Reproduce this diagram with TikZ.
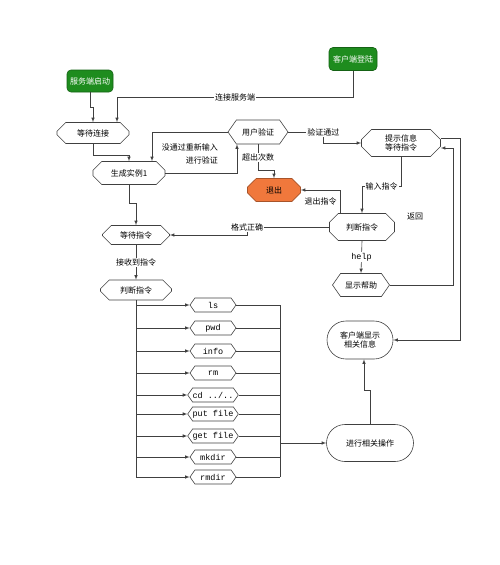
\documentclass[tikz,border=0pt]{standalone}
\usepackage{fontspec}
\setmainfont{Liberation Serif}
\setmonofont{Liberation Mono}
\newfontfamily\cjk{Noto Sans CJK SC}
\usetikzlibrary{shapes.misc,shapes.symbols}
\definecolor{startgreen}{RGB}{30,140,30}
\definecolor{quitorange}{RGB}{240,120,60}
\tikzset{
  base/.style={draw=black!75, line width=0.6pt, inner sep=0pt, align=center, font=\cjk\fontsize{8}{9.5}\selectfont},
  startbox/.style={base, rectangle, rounded corners=4pt, fill=startgreen, draw=startgreen!70!black, text=white},
  octbox/.style={base, chamfered rectangle, chamfered rectangle xsep=5pt, chamfered rectangle ysep=5pt},
  hexbox/.style={base, signal, signal to=west and east, signal pointer angle=110},
  cmdbox/.style={hexbox, font=\ttfamily\fontsize{8.5}{9}\selectfont, minimum width=46pt, minimum height=14pt},
  roundbox/.style={base, rounded rectangle},
  arr/.style={draw=black!75, line width=0.6pt, -latex},
  lbl/.style={font=\cjk\fontsize{8}{9.5}\selectfont, fill=white, inner sep=1pt, align=center}
}
\begin{document}
\begin{tikzpicture}[x=1pt, y=-1pt]
		\useasboundingbox (0,0) rectangle (500,565);
		
		%%%%% START %%%%%
		\node[startbox, minimum width=46pt, minimum height=22pt] (srvStart) at (90,81) {服务端启动};
		\node[startbox, minimum width=48pt, minimum height=23pt] (cliLogin) at (353,59) {客户端登陆};
		
		\node[octbox, minimum width=72pt, minimum height=21pt] (waitConn) at (93,133) {等待连接};
		\node[hexbox, minimum width=60pt, minimum height=24pt] (auth) at (258,132) {用户验证};
		\node[octbox, minimum width=72pt, minimum height=23pt] (inst) at (129,173) {生成实例1};
		\node[octbox, minimum width=53pt, minimum height=23pt, fill=quitorange, draw=quitorange!70!black] (quit) at (274,190) {退出};
		\node[octbox, minimum width=79pt, minimum height=21pt] (prompt) at (401,143) {提示信息\\等待指令};
		\node[octbox, minimum width=65pt, minimum height=27pt] (judgeR) at (362,227) {判断指令};
		\node[octbox, minimum width=67pt, minimum height=19pt] (waitCmd) at (136,235) {等待指令};
		\node[octbox, minimum width=71pt, minimum height=20pt] (judgeL) at (136,290) {判断指令};
		\node[hexbox, minimum width=57pt, minimum height=23pt] (help) at (361,285) {显示帮助};
		\node[roundbox, minimum width=66pt, minimum height=38pt] (show) at (360,340) {客户端显示\\相关信息};
		\node[roundbox, minimum width=87pt, minimum height=37pt] (oper) at (370,443) {进行相关操作};
		
		% commands
		\node[cmdbox] (cmdLs) at (213,305) {ls};
		\node[cmdbox] (cmdPwd) at (213,328) {pwd};
		\node[cmdbox] (cmdInfo) at (213,351) {info};
		\node[cmdbox] (cmdRm) at (213,373) {rm};
		\node[cmdbox] (cmdCd) at (213,395) {cd ../..};
		\node[cmdbox] (cmdPut) at (213,414) {put file};
		\node[cmdbox] (cmdGet) at (213,436) {get file};
		\node[cmdbox] (cmdMkdir) at (213,457) {mkdir};
		\node[cmdbox] (cmdRmdir) at (213,477) {rmdir};
		\coordinate (busR) at (280,305);
		
		% connectors
		\draw[arr] (srvStart.south) -- ++(0,15) -| (waitConn.north);
		\coordinate (connJoin) at (117,97);
		\draw[arr] (cliLogin.south) |- node[lbl, pos=0.75] {连接服务端} (connJoin) -- (connJoin |- waitConn.north);
		\draw[arr] (waitConn.south) -- ++(0,11) -| (inst.north);
		\draw[arr] (auth.west) -| ([xshift=23pt]inst.north);
		\node[lbl, anchor=east, align=right, fill=none] (lblRetry) at (219,154) {没通过重新输入\\[3pt]进行验证};
		\draw[arr] (inst.east) -| ([xshift=-21pt]auth.south);
		\draw[arr] (auth.south) -- node[lbl] {超出次数} ++(0,26) -| (quit.north);
		\draw[arr] (auth.east) -- ++(35,0) node[lbl] {验证通过} |- (prompt.west);
		\draw[arr] (prompt.south) -- ++(0,30) -| node[lbl, pos=0.25] {输入指令} (judgeR.north);
		\draw[arr] ([xshift=-22pt]judgeR.north) |- node[lbl, pos=0.25, anchor=east, xshift=-2pt, fill=none] {退出指令} (quit.east);
		\draw[arr] (judgeR.west) -- ++(-82,0) node[lbl] {格式正确} |- (waitCmd.east);
		\draw[arr] (judgeR.south) -- node[lbl, font=\ttfamily\fontsize{8.5}{9}\selectfont] {help} (help.north);
		\draw[arr] (help.east) -- ++(63,0) |- ([yshift=-5pt]prompt.east);
		\node[lbl, fill=none] (lblBack) at (415,217) {返回};
		\draw[arr] ([yshift=5pt]prompt.east) -- ++(19,0) |- (show.east);
		\draw[arr] (oper.north) -- ++(0,-34) -| ([xshift=4pt]show.south);
		\draw[arr] (inst.south) -- ++(0,18) -| (waitCmd.north);
		\draw[arr] (waitCmd.south) -- node[lbl] {接收到指令} (judgeL.north);
		
		% command bus
		\draw[arr, -] (judgeL.south) -- (judgeL.south |- cmdRmdir.west);
		\draw[arr] (judgeL.south |- cmdLs.west) -- (cmdLs.west);
		\draw[arr] (judgeL.south |- cmdPwd.west) -- (cmdPwd.west);
		\draw[arr] (judgeL.south |- cmdInfo.west) -- (cmdInfo.west);
		\draw[arr] (judgeL.south |- cmdRm.west) -- (cmdRm.west);
		\draw[arr] (judgeL.south |- cmdCd.west) -- (cmdCd.west);
		\draw[arr] (judgeL.south |- cmdPut.west) -- (cmdPut.west);
		\draw[arr] (judgeL.south |- cmdGet.west) -- (cmdGet.west);
		\draw[arr] (judgeL.south |- cmdMkdir.west) -- (cmdMkdir.west);
		\draw[arr] (judgeL.south |- cmdRmdir.west) -- (cmdRmdir.west);
		\draw[arr, -] (busR) -- (busR |- cmdRmdir.east);
		\draw[arr, -] (cmdLs.east) -- (cmdLs.east -| busR);
		\draw[arr, -] (cmdPwd.east) -- (cmdPwd.east -| busR);
		\draw[arr, -] (cmdInfo.east) -- (cmdInfo.east -| busR);
		\draw[arr, -] (cmdRm.east) -- (cmdRm.east -| busR);
		\draw[arr, -] (cmdCd.east) -- (cmdCd.east -| busR);
		\draw[arr, -] (cmdPut.east) -- (cmdPut.east -| busR);
		\draw[arr, -] (cmdGet.east) -- (cmdGet.east -| busR);
		\draw[arr, -] (cmdMkdir.east) -- (cmdMkdir.east -| busR);
		\draw[arr, -] (cmdRmdir.east) -- (cmdRmdir.east -| busR);
		\draw[arr] (busR |- oper.west) -- (oper.west);
		%%%%% END %%%%%
\end{tikzpicture}
\end{document}
